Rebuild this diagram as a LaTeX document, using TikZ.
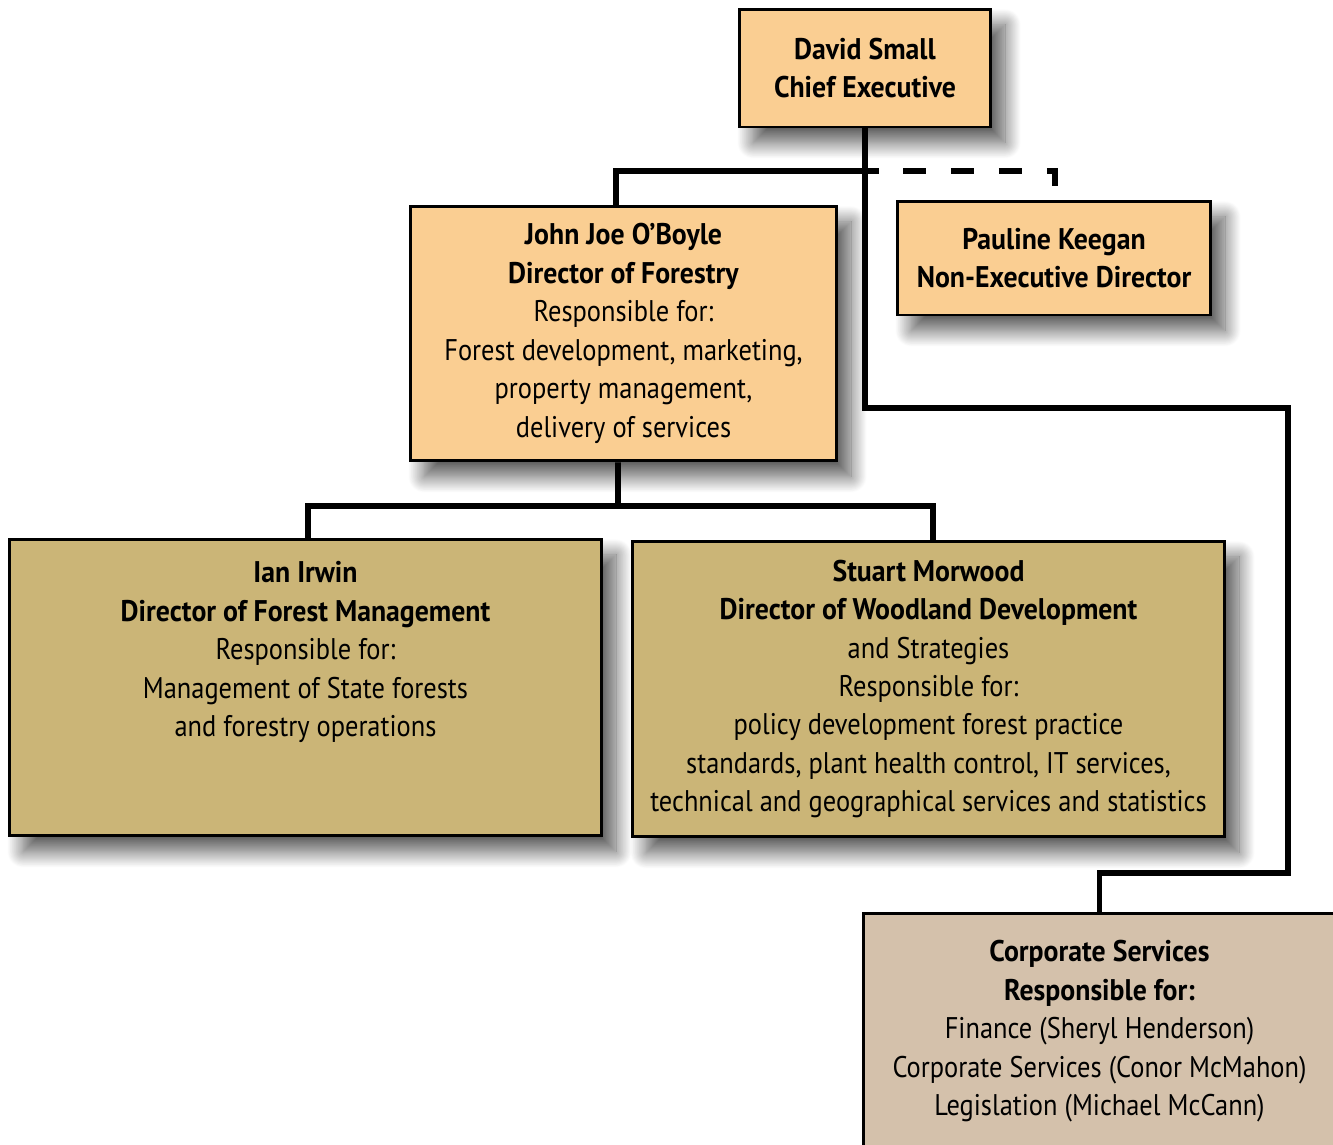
\documentclass[tikz,border=0pt]{standalone}
\usepackage{fontspec}
\setmainfont[FakeStretch=0.885, BoldFeatures={FakeStretch=0.93}]{PT Sans}
\usetikzlibrary{shadows.blur}

\definecolor{peach}{RGB}{250,206,146}
\definecolor{khaki}{RGB}{203,181,119}
\definecolor{stone}{RGB}{212,193,171}

\tikzset{
  post/.style={draw=black, line width=1.7pt, align=center, inner sep=0pt,
    font=\fontsize{17}{21.9}\selectfont,
    blur shadow={shadow xshift=8pt, shadow yshift=-9pt,
      shadow blur radius=9pt, shadow blur steps=24, shadow opacity=65}},
  link/.style={line width=3.4pt},
}

\begin{document}
\begin{tikzpicture}[x=0.02cm, y=-0.02cm]
    \useasboundingbox (0,0) rectangle (1333,1144);
    %% Draw the posts
    \node[post, fill=peach, minimum width=5.04cm, minimum height=2.36cm] (ceo) at (865,68)
      {\textbf{David Small}\\ \textbf{Chief Executive}};
    \node[post, fill=peach, minimum width=8.54cm, minimum height=5.1cm] (forestry) at (623.5,333.5)
      {\textbf{John Joe O’Boyle}\\ \textbf{Director of Forestry}\\ Responsible for:\\
       Forest development, marketing,\\ property management,\\ delivery of services};
    \node[post, fill=peach, minimum width=6.28cm, minimum height=2.28cm] (nonexec) at (1054,258)
      {\textbf{Pauline Keegan}\\ \textbf{Non-Executive Director}};
    \node[post, fill=khaki, minimum width=11.86cm, minimum height=5.94cm] (forestmgmt) at (305.5,687.5)
      {\textbf{Ian Irwin}\\ \textbf{Director of Forest Management}\\ Responsible for:\\
       Management of State forests\\ and forestry operations\\ ~\\ ~};
    \node[post, fill=khaki, minimum width=11.86cm, minimum height=5.92cm] (woodland) at (928.5,689)
      {\textbf{Stuart Morwood}\\ \textbf{Director of Woodland Development}\\ and Strategies\\
       Responsible for:\\ policy development forest practice\\
       standards, plant health control, IT services,\\
       technical and geographical services and statistics};
    \node[post, fill=stone, minimum width=9.46cm, minimum height=4.74cm] (corporate) at (1099.5,1031.5)
      {\textbf{Corporate Services}\\ \textbf{Responsible for:}\\ Finance (Sheryl Henderson)\\
       Corporate Services (Conor McMahon)\\ Legislation (Michael McCann)};
    %% Draw the junctions
    \coordinate (split) at (865,171);
    \coordinate (bend) at (865,408);
    \coordinate (rail) at (1288,873);
    \coordinate (fork) at (618,506);
    %% Draw the lines
    \begin{scope}[every path/.style={link}]
      \draw (ceo.south) -- (split) -| ([xshift=-0.15cm]forestry.north);
      \draw[dash pattern=on 0.47cm off 0.49cm, dash phase=0.2cm] (split) -| ([xshift=0.02cm]nonexec.north);
      \draw (split) -- (bend) -| (rail) -| (corporate.north);
      \draw ([xshift=-0.11cm]forestry.south) -- (fork);
      \draw (fork) -| ([xshift=0.05cm]forestmgmt.north);
      \draw (fork) -| ([xshift=0.09cm]woodland.north);
    \end{scope}
  \end{tikzpicture}
\end{document}
